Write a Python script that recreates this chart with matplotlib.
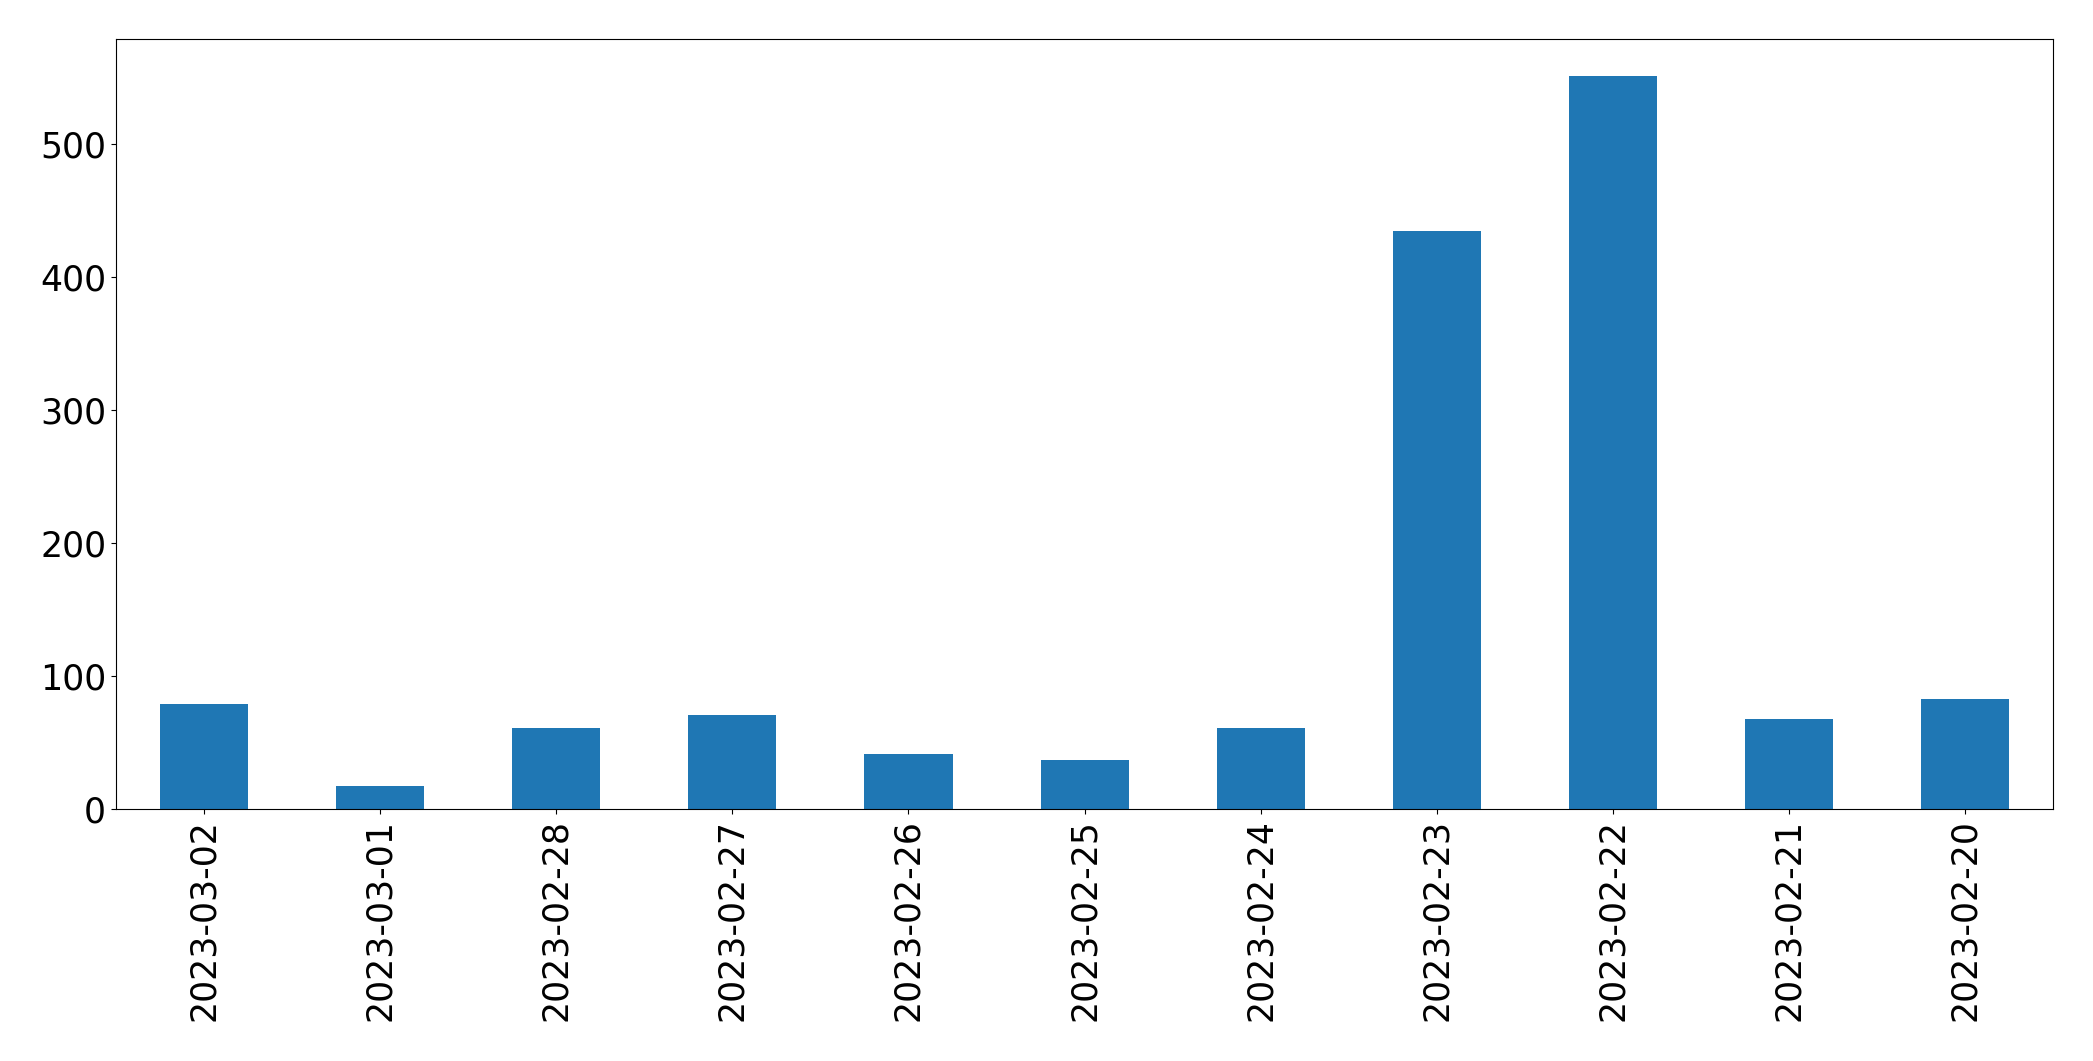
import numpy as np
import matplotlib
matplotlib.use('Agg')
import matplotlib.pyplot as plt

# Dates (x categories) and counts
dates = ['2023-03-02', '2023-03-01', '2023-02-28', '2023-02-27', '2023-02-26',
         '2023-02-25', '2023-02-24', '2023-02-23', '2023-02-22', '2023-02-21',
         '2023-02-20']
counts = [79, 17, 61, 71, 41, 37, 61, 434, 551, 68, 83]

fig = plt.figure(figsize=(20.93, 10.61), dpi=100)
ax = fig.add_subplot(111)
fig.subplots_adjust(left=0.0554, right=0.981, top=0.9632, bottom=0.2375)

x = np.arange(len(dates))
ax.bar(x, counts, width=0.5, color='#1f77b4')
ax.set_xlim(-0.5, len(dates) - 0.5)
ax.set_xticks(x)
ax.set_xticklabels(dates, rotation=90, fontsize=25)
ax.tick_params(axis='y', labelsize=25)

fig.savefig('out.png', dpi=100)
